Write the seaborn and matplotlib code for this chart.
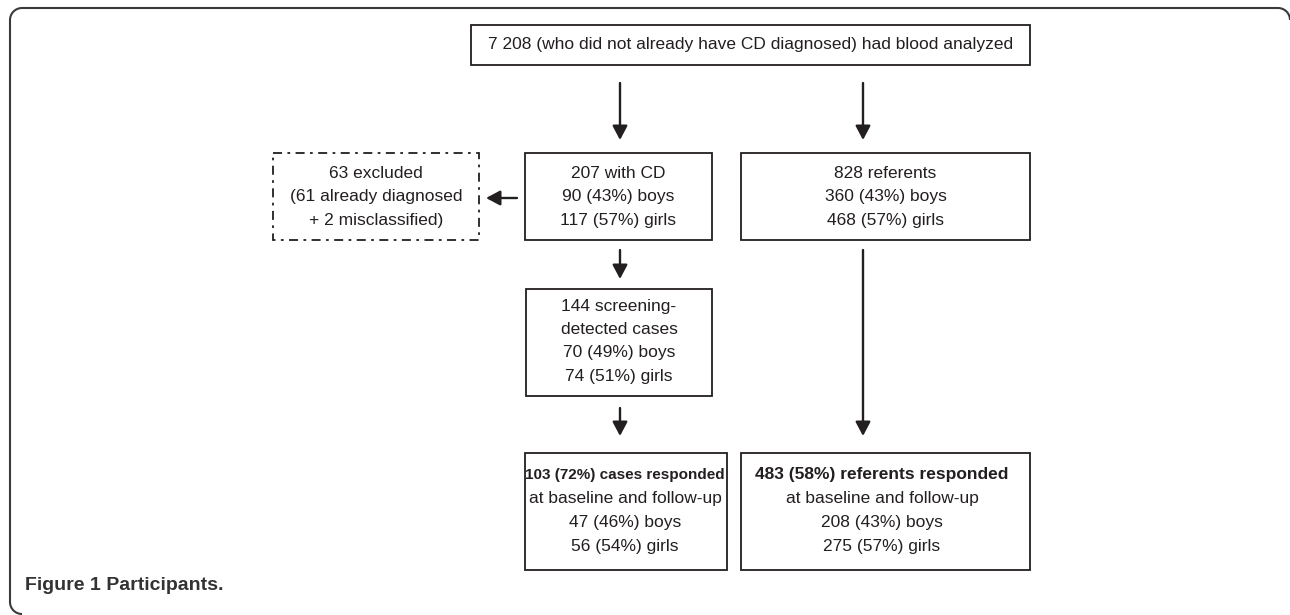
import matplotlib
matplotlib.use("Agg")
import matplotlib.pyplot as plt
import seaborn as sns
from matplotlib.patches import Rectangle, Arc

# Texts of the flowchart boxes
top_text = ["7 208 (who did not already have CD diagnosed) had blood analyzed"]
cd_text = ["207 with CD", "90 (43%) boys", "117 (57%) girls"]
ref_text = ["828 referents", "360 (43%) boys", "468 (57%) girls"]
excl_text = ["63 excluded", "(61 already diagnosed", "+ 2 misclassified)"]
screen_text = ["144 screening-", "detected cases", "70 (49%) boys", "74 (51%) girls"]
cases_text = ["103 (72%) cases responded", "at baseline and follow-up", "47 (46%) boys", "56 (54%) girls"]
refresp_text = ["483 (58%) referents responded", "at baseline and follow-up", "208 (43%) boys", "275 (57%) girls"]
caption_bold = "Figure 1"
caption_rest = " Participants."

sns.set_style("white")
plt.rcParams['font.family'] = ['Liberation Sans', 'DejaVu Sans']

W, H = 1290, 615
fig = plt.figure(figsize=(W / 100, H / 100), dpi=100)
ax = fig.add_axes([0, 0, 1, 1])
ax.set_xlim(0, W)
ax.set_ylim(H, 0)
ax.axis("off")

ink = "#231f20"
fs = 12.5

# outer frame: top and left edges with rounded corners, right/bottom fall off the page
fc, flw, r = "#3a3a3a", 1.5, 12
ax.plot([10 + r, 1290 - r], [8, 8], color=fc, lw=flw)
ax.plot([10, 10], [8 + r, 614 - r], color=fc, lw=flw)
ax.add_patch(Arc((10 + r, 8 + r), 2 * r, 2 * r, theta1=180, theta2=270, color=fc, lw=flw))
ax.add_patch(Arc((10 + r, 614 - r), 2 * r, 2 * r, theta1=90, theta2=180, color=fc, lw=flw))
ax.add_patch(Arc((1290 - r, 8 + r), 2 * r, 2 * r, theta1=270, theta2=360, color=fc, lw=flw))


def box(x0, y0, x1, y1, lines, ys, ls="-", bold_first=False, bold_fs=fs, cx=None):
    ax.add_patch(Rectangle((x0, y0), x1 - x0, y1 - y0, fill=False, edgecolor=ink,
                           linewidth=1.3, linestyle=ls))
    if cx is None:
        cx = (x0 + x1) / 2
    for i, (t, y) in enumerate(zip(lines, ys)):
        bold = bold_first and i == 0
        ax.text(cx, y, t, ha="center", va="center", fontsize=bold_fs if bold else fs,
                color=ink, fontweight="bold" if bold else "normal")


def arrow(x0, y0, x1, y1):
    ax.annotate("", xy=(x1, y1), xytext=(x0, y0),
                arrowprops=dict(arrowstyle="-|>,head_length=0.85,head_width=0.45",
                                color=ink, lw=1.7, shrinkA=0, shrinkB=0))


box(471, 25, 1030, 65, top_text, [45])
box(525, 153, 712, 240, cd_text, [173, 197, 221])
box(741, 153, 1030, 240, ref_text, [173, 197, 221])
box(273, 153, 479, 240, excl_text, [173, 197, 221], ls=(0, (5, 3, 1.5, 3)))
box(526, 289, 712, 396, screen_text, [307, 329, 353, 377])
box(525, 453, 727, 570, cases_text, [475, 499, 523, 547], bold_first=True,
    bold_fs=11.0, cx=625)
box(741, 453, 1030, 570, refresp_text, [475, 499, 523, 547], bold_first=True, cx=882)

arrow(620, 83, 620, 140)
arrow(863, 83, 863, 140)
arrow(517, 198, 486, 198)
arrow(620, 250, 620, 279)
arrow(620, 408, 620, 436)
arrow(863, 250, 863, 436)

t = ax.text(25, 585, caption_bold, ha="left", va="center", fontsize=14,
            fontweight="bold", color="#333333")
fig.canvas.draw()
bb = t.get_window_extent().transformed(ax.transData.inverted())
ax.text(bb.x1, 585, caption_rest, ha="left", va="center", fontsize=14,
        fontweight="bold", color="#333333")

fig.savefig("out.png", dpi=100)
